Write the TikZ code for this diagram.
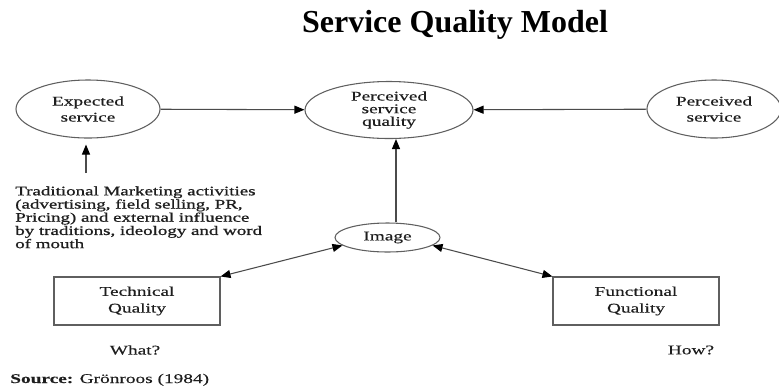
\documentclass[tikz,border=0pt]{standalone}
\usepackage{fontspec}
\setmainfont{Liberation Serif}
\newfontfamily\diagfont[FakeStretch=1.45,FakeBold=0.3]{Liberation Serif}
\newfontfamily\blockfont[FakeStretch=1.45,FakeBold=1]{Liberation Serif}
\usepackage{xcolor}
\usetikzlibrary{shapes.geometric,arrows.meta}
\definecolor{inkgray}{RGB}{30,30,30}
\definecolor{linegray}{RGB}{75,75,75}
\definecolor{rimgray}{RGB}{95,95,95}

\tikzset{
  oval/.style={ellipse, draw=rimgray, line width=0.8pt, inner sep=0pt,
    align=center, text=inkgray, font=\diagfont\fontsize{10}{12}\selectfont},
  qbox/.style={rectangle, draw=rimgray, line width=0.8pt, inner sep=0pt,
    align=center, text=inkgray, minimum width=124.5pt, minimum height=36pt,
    font=\diagfont\fontsize{10}{12.5}\selectfont},
  arr/.style={draw=linegray, line width=0.8pt,
    -{Triangle[length=7.5pt,width=6pt,color=black]}},
  arrboth/.style={arr, {Triangle[length=7.5pt,width=6pt,color=black]}-{Triangle[length=7.5pt,width=6pt,color=black]}},
  note/.style={inner sep=0pt, text=inkgray, font=\diagfont\fontsize{10}{12}\selectfont}
}

\begin{document}
\begin{tikzpicture}[x=0.75pt,y=-0.75pt]
  \useasboundingbox (0,0) rectangle (779,387);

  % Title
  \node[anchor=base, font=\bfseries\fontsize{24}{28}\selectfont] (title) at (455,32) {Service Quality Model};

  % Top row of ovals
  \node[oval, minimum width=108pt, minimum height=43.5pt] (exp) at (88,109) {Expected\\service};
  \node[oval, minimum width=126pt, minimum height=42.75pt,
    font=\diagfont\fontsize{10}{9.5}\selectfont] (psq) at (389,110) {Perceived\\service\\quality};
  \node[oval, minimum width=100.5pt, minimum height=43.5pt] (pcs) at (714,109) {Perceived\\service};

  % Image and the two quality boxes
  \node[oval, minimum width=78.75pt, minimum height=21.75pt] (img) at (387.5,237.5) {Image};
  \node[qbox] (tech) at (137,301) {Technical\\Quality};
  \node[qbox] (func) at (636,301) {Functional\\Quality};

  % Marketing note
  \node[note, anchor=north west, align=left,
    font=\blockfont\fontsize{9.8}{9.9}\selectfont] (mktnote) at (15,186)
    {Traditional Marketing activities\\(advertising, field selling, PR,\\Pricing) and external influence\\by traditions, ideology and word\\of mouth};
  \coordinate (mkt) at (86,173);
  \coordinate (upx) at (396,0);

  % Connectors
  \draw[arr] (exp) -- (psq);
  \draw[arr] (pcs) -- (psq);
  \draw[arr, shorten >=4.5pt] (mkt) -- (mkt |- exp.south);
  \draw[arr] (img.north -| upx) -- (psq.south -| upx);
  \draw[arrboth] (tech.north east) -- (img.190);
  \draw[arrboth] (func.north west) -- (img.350);

  % Questions and source
  \node[note] (what) at (135,350) {What?};
  \node[note] (how) at (691,350) {How?};
  \node[note, anchor=base west] (src) at (10,383) {\textbf{Source:} Grönroos (1984)};
\end{tikzpicture}
\end{document}
